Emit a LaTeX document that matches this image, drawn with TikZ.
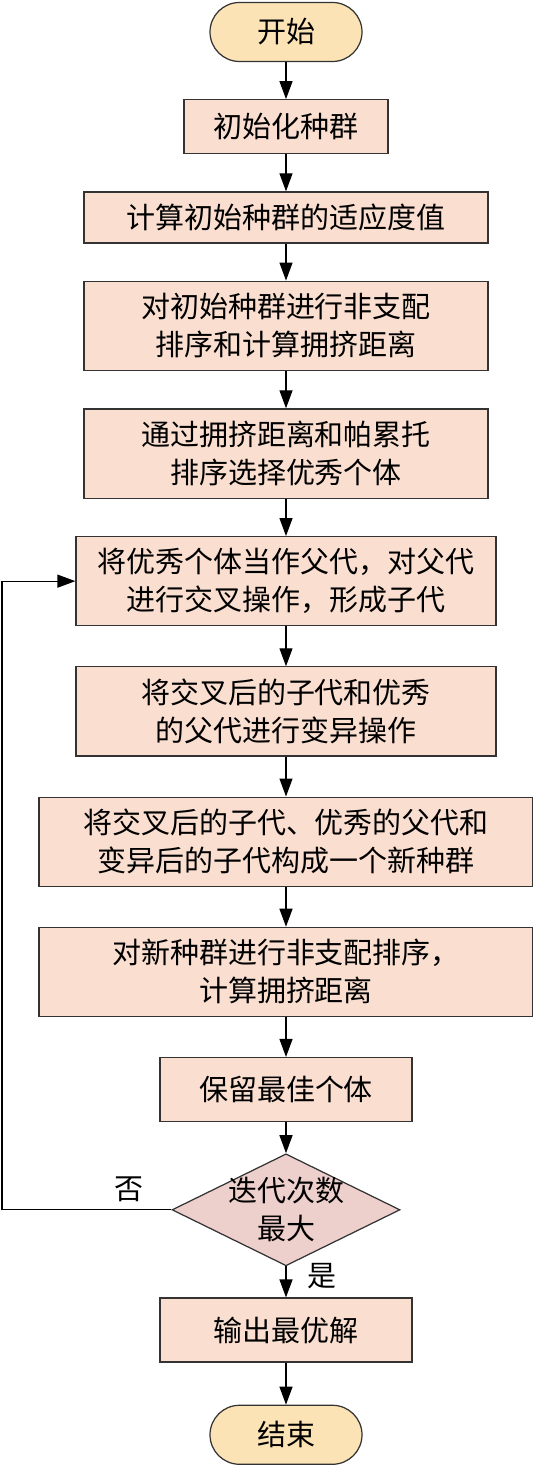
\documentclass[tikz,border=0pt]{standalone}
\usepackage{fontspec}
\setmainfont{Noto Sans CJK SC}
\usetikzlibrary{arrows.meta,positioning,shapes.geometric}
\definecolor{termfill}{HTML}{FBE3B5}
\definecolor{boxfill}{HTML}{FADFD1}
\definecolor{askfill}{HTML}{EDCFCC}
\definecolor{linegray}{HTML}{333333}
\begin{document}
\begin{tikzpicture}[
  >={Triangle[length=3.6mm,width=2.6mm]},node distance=7.4mm,
  font=\fontsize{16.5}{21.6}\selectfont,line width=0.7pt,
  box/.style={draw=linegray,fill=boxfill,align=center,inner sep=0pt},
  term/.style={draw=linegray,fill=termfill,rounded corners=5.9mm,
    minimum width=30.4mm,minimum height=11.8mm,inner sep=0pt},
  ask/.style={draw=linegray,fill=askfill,diamond,shape aspect=2,
    align=center,inner sep=-1.8mm,minimum width=45.6mm,minimum height=22.4mm},
  every edge/.style={draw,->}]
\useasboundingbox (0,0) rectangle (10.64,-29.34);
\node[term] (start) at (5.72,-0.64) {开始};
\node[box,below=of start,minimum width=40.8mm,minimum height=10.8mm] (init) {初始化种群};
\node[box,below=of init,minimum width=80.8mm,minimum height=10.2mm] (fit) {计算初始种群的适应度值};
\node[box,below=of fit,minimum width=80.8mm,minimum height=17.9mm] (sort)
  {对初始种群进行非支配\\排序和计算拥挤距离};
\node[box,below=of sort,minimum width=80.8mm,minimum height=17.9mm] (select)
  {通过拥挤距离和帕累托\\排序选择优秀个体};
\node[box,below=of select,minimum width=84mm,minimum height=17.8mm] (cross)
  {将优秀个体当作父代，对父代\\进行交叉操作，形成子代};
\node[box,below=8mm of cross,minimum width=84mm,minimum height=17.8mm] (mutate)
  {将交叉后的子代和优秀\\的父代进行变异操作};
\node[box,below=8mm of mutate,minimum width=98.8mm,minimum height=17.8mm] (merge)
  {将交叉后的子代、优秀的父代和\\变异后的子代构成一个新种群};
\node[box,below=8mm of merge,minimum width=98.8mm,minimum height=17.8mm] (resort)
  {对新种群进行非支配排序，\\计算拥挤距离};
\node[box,below=8mm of resort,minimum width=50.4mm,minimum height=12.8mm] (keep) {保留最佳个体};
\node[ask,below=6.2mm of keep] (check) {迭代次数\\最大};
\node[box,below=6.2mm of check,minimum width=50.4mm,minimum height=12.8mm] (output) {输出最优解};
\node[term,below=8.4mm of output] (stop) {结束};
\coordinate (back) at (0.04,0);
\draw (start) edge (init) (init) edge (fit) (fit) edge (sort)
  (sort) edge (select) (select) edge (cross) (cross) edge (mutate)
  (mutate) edge (merge) (merge) edge (resort) (resort) edge (keep)
  (keep) edge (check) (output) edge (stop);
\draw[->] (check) -- node[pos=0.3,right=3mm] {是} (output);
\draw[->] (check.west) -- node[pos=0.25,above=0.3mm] {否} (check.west -| back)
  |- (cross.west);
\end{tikzpicture}
\end{document}
